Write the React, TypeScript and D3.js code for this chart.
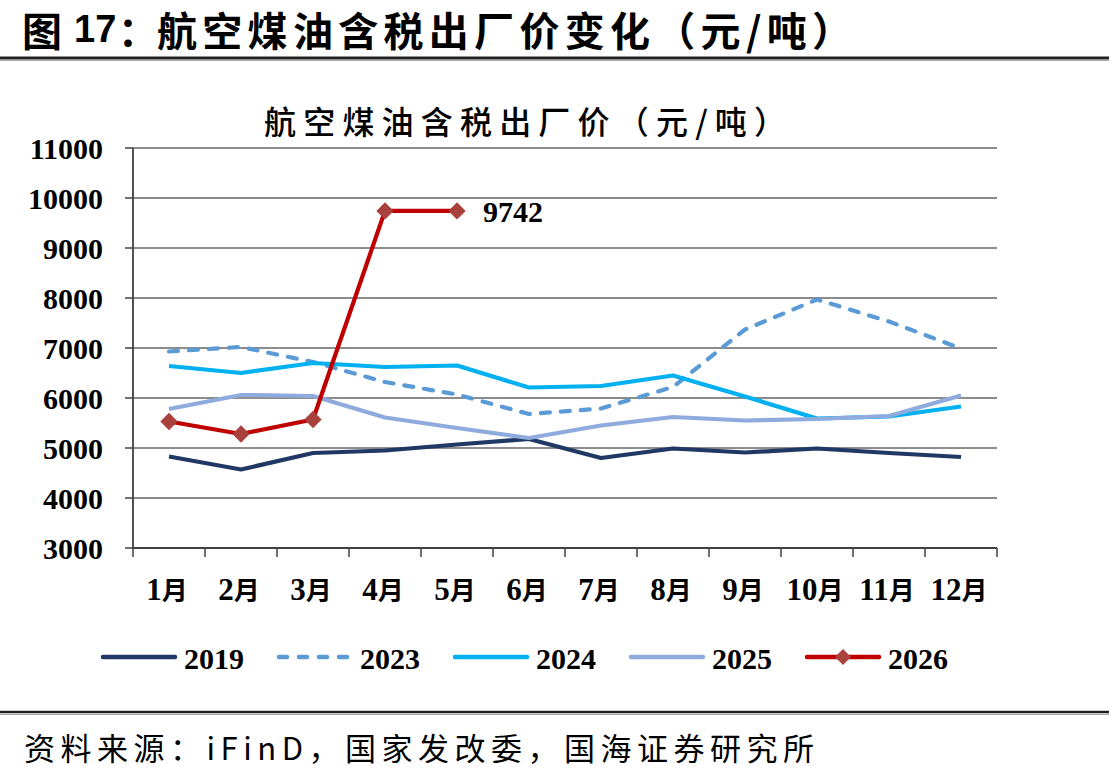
import React, { useRef, useEffect } from "react";
import * as d3 from "d3";

// 月份类目与纵轴刻度
const months = ["1月", "2月", "3月", "4月", "5月", "6月", "7月", "8月", "9月", "10月", "11月", "12月"];
const yTickValues = [3000, 4000, 5000, 6000, 7000, 8000, 9000, 10000, 11000];

// 各年份含税出厂价（元/吨）
const v2019 = [4830, 4570, 4900, 4950, 5070, 5180, 4800, 4990, 4910, 4990, 4900, 4820];
const v2023 = [6930, 7020, 6720, 6320, 6070, 5680, 5790, 6220, 7370, 7970, 7530, 6990];
const v2024 = [6640, 6500, 6700, 6620, 6650, 6210, 6240, 6450, 6030, 5590, 5630, 5830];
const v2025 = [5780, 6060, 6040, 5610, 5400, 5200, 5450, 5620, 5550, 5580, 5640, 6050];
const v2026 = [5530, 5280, 5570, 9742, 9742];

const seriesNames = ["2019", "2023", "2024", "2025", "2026"];

const W = 1109;
const H = 779;
const SERIF = "'Liberation Serif', 'Times New Roman', serif";
const CJK = "'Noto Sans CJK SC', sans-serif";

const App: React.FC = () => {
  const svgRef = useRef<SVGSVGElement | null>(null);

  useEffect(() => {
    document.body.style.margin = "0";
    if (!svgRef.current) return;
    const svg = d3.select(svgRef.current);
    svg.selectAll("*").remove();

    const series = [
      { name: seriesNames[0], values: v2019, color: "#1F3864", dash: null, marker: false },
      { name: seriesNames[1], values: v2023, color: "#5B9BD5", dash: "9 11", marker: false },
      { name: seriesNames[2], values: v2024, color: "#00B0F0", dash: null, marker: false },
      { name: seriesNames[3], values: v2025, color: "#8FAADC", dash: null, marker: false },
      { name: seriesNames[4], values: v2026, color: "#C00000", dash: null, marker: true },
    ];
    const markerColor = "#A9413D";

    const left = 133;
    const right = 997;
    const top = 148;
    const bottom = 548;

    const x = d3.scaleBand().domain(months).range([left, right]).padding(0);
    const y = d3.scaleLinear().domain([3000, 11000]).range([bottom, top]);
    const cx = (i: number) => x(months[i])! + x.bandwidth() / 2;

    // 页面标题与分隔线
    const g = svg.append("g");
    g.append("text")
      .attr("x", 22)
      .attr("y", 29)
      .attr("dominant-baseline", "central")
      .style("font-family", CJK)
      .style("font-weight", 700)
      .style("font-size", "40px")
      .text("图");
    g.append("text")
      .attr("x", 74)
      .attr("y", 29)
      .attr("dominant-baseline", "central")
      .style("font-family", "'Liberation Sans', Arial, sans-serif")
      .style("font-weight", 700)
      .style("font-size", "38px")
      .text("17");
    g.append("text")
      .attr("x", 118)
      .attr("y", 29)
      .attr("dominant-baseline", "central")
      .style("font-family", CJK)
      .style("font-weight", 700)
      .style("font-size", "40px")
      .text("：");
    g.append("text")
      .attr("x", 157)
      .attr("y", 29)
      .attr("dominant-baseline", "central")
      .attr("textLength", 695)
      .attr("lengthAdjust", "spacing")
      .style("font-family", CJK)
      .style("font-weight", 700)
      .style("font-size", "40px")
      .text("航空煤油含税出厂价变化（元/吨）");
    g.append("line")
      .attr("x1", 0).attr("x2", W).attr("y1", 58).attr("y2", 58)
      .attr("stroke", "#222").attr("stroke-width", 3);
    g.append("line")
      .attr("x1", 0).attr("x2", W).attr("y1", 60.5).attr("y2", 60.5)
      .attr("stroke", "#aaa").attr("stroke-width", 1);

    // 图内标题
    g.append("text")
      .attr("x", 264)
      .attr("y", 120)
      .attr("dominant-baseline", "central")
      .attr("textLength", 522)
      .attr("lengthAdjust", "spacing")
      .style("font-family", CJK)
      .style("font-weight", 500)
      .style("font-size", "32px")
      .text("航空煤油含税出厂价（元/吨）");

    // 网格线与纵轴
    g.selectAll(".grid")
      .data(yTickValues)
      .enter()
      .append("line")
      .attr("class", "grid")
      .attr("x1", left)
      .attr("x2", right)
      .attr("y1", (d) => y(d))
      .attr("y2", (d) => y(d))
      .attr("stroke", "#8c8c8c")
      .attr("stroke-width", 2);

    g.selectAll(".ytick")
      .data(yTickValues)
      .enter()
      .append("line")
      .attr("class", "ytick")
      .attr("x1", left - 8)
      .attr("x2", left)
      .attr("y1", (d) => y(d))
      .attr("y2", (d) => y(d))
      .attr("stroke", "#404040")
      .attr("stroke-width", 1.5);

    g.selectAll(".ylabel")
      .data(yTickValues)
      .enter()
      .append("text")
      .attr("class", "ylabel")
      .attr("x", 103)
      .attr("y", (d) => y(d))
      .attr("dominant-baseline", "central")
      .attr("text-anchor", "end")
      .style("font-family", SERIF)
      .style("font-weight", 700)
      .style("font-size", "30px")
      .text((d) => d);

    g.append("line")
      .attr("x1", left).attr("x2", left).attr("y1", top).attr("y2", bottom)
      .attr("stroke", "#404040").attr("stroke-width", 1.8);

    // 横轴
    g.append("line")
      .attr("x1", left).attr("x2", right).attr("y1", bottom).attr("y2", bottom)
      .attr("stroke", "#404040").attr("stroke-width", 1.8);

    const boundaries = months.map((m) => x(m)!).concat([right]);
    g.selectAll(".xtick")
      .data(boundaries)
      .enter()
      .append("line")
      .attr("class", "xtick")
      .attr("x1", (d) => d)
      .attr("x2", (d) => d)
      .attr("y1", bottom)
      .attr("y2", bottom + 9)
      .attr("stroke", "#404040")
      .attr("stroke-width", 1.5);

    const xl = g.selectAll(".xlabel")
      .data(months)
      .enter()
      .append("text")
      .attr("class", "xlabel")
      .attr("x", (d) => x(d)! + x.bandwidth() / 2 - 2)
      .attr("y", 600)
      .attr("text-anchor", "middle")
      .style("font-weight", 700);
    xl.append("tspan")
      .style("font-family", SERIF)
      .style("font-size", "31px")
      .text((d) => d.replace("月", ""));
    xl.append("tspan")
      .style("font-family", CJK)
      .style("font-size", "26px")
      .text("月");

    // 折线
    const line = d3
      .line<number>()
      .x((_, i) => cx(i))
      .y((d) => y(d));

    series.forEach((s) => {
      g.append("path")
        .datum(s.values)
        .attr("d", line)
        .attr("fill", "none")
        .attr("stroke", s.color)
        .attr("stroke-width", 4.2)
        .attr("stroke-linejoin", "round")
        .attr("stroke-linecap", s.dash ? "round" : "butt")
        .attr("stroke-dasharray", s.dash);
      if (s.marker) {
        g.selectAll(".mk" + s.name)
          .data(s.values)
          .enter()
          .append("path")
          .attr("d", d3.symbol(d3.symbolSquare, 150)())
          .attr("transform", (d, i) => `translate(${cx(i)},${y(d)}) rotate(45)`)
          .attr("fill", markerColor);
      }
    });

    // 最新值标注
    const lastIdx = v2026.length - 1;
    g.append("text")
      .attr("x", cx(lastIdx) + 26)
      .attr("y", y(v2026[lastIdx]) + 1)
      .attr("dominant-baseline", "central")
      .style("font-family", SERIF)
      .style("font-weight", 700)
      .style("font-size", "30px")
      .text(v2026[lastIdx]);

    // 图例
    const legend = g
      .selectAll(".legend")
      .data(series)
      .enter()
      .append("g")
      .attr("class", "legend")
      .attr("transform", (_, i) => `translate(${101 + i * 176},657)`);
    legend
      .append("line")
      .attr("x1", 2)
      .attr("x2", 74)
      .attr("stroke", (d) => d.color)
      .attr("stroke-width", 4.5)
      .attr("stroke-linecap", "round")
      .attr("stroke-dasharray", (d) => (d.dash ? "8 12" : null));
    legend
      .filter((d) => d.marker)
      .append("path")
      .attr("d", d3.symbol(d3.symbolSquare, 130)())
      .attr("transform", "translate(38,0) rotate(45)")
      .attr("fill", markerColor);
    legend
      .append("text")
      .attr("x", 83)
      .attr("y", 1)
      .attr("dominant-baseline", "central")
      .style("font-family", SERIF)
      .style("font-weight", 700)
      .style("font-size", "30px")
      .text((d) => d.name);

    // 来源
    g.append("line")
      .attr("x1", 0).attr("x2", W).attr("y1", 712).attr("y2", 712)
      .attr("stroke", "#222").attr("stroke-width", 2.5);
    g.append("line")
      .attr("x1", 0).attr("x2", W).attr("y1", 714.5).attr("y2", 714.5)
      .attr("stroke", "#aaa").attr("stroke-width", 1);
    g.append("text")
      .attr("x", 24)
      .attr("y", 746)
      .attr("dominant-baseline", "central")
      .attr("textLength", 790)
      .attr("lengthAdjust", "spacing")
      .style("font-family", CJK)
      .style("font-weight", 400)
      .style("font-size", "31px")
      .text("资料来源：iFinD，国家发改委，国海证券研究所");
  }, []);

  return (
    <svg ref={svgRef} width={W} height={H} style={{ display: "block", background: "#fff" }}></svg>
  );
};

export default App;
